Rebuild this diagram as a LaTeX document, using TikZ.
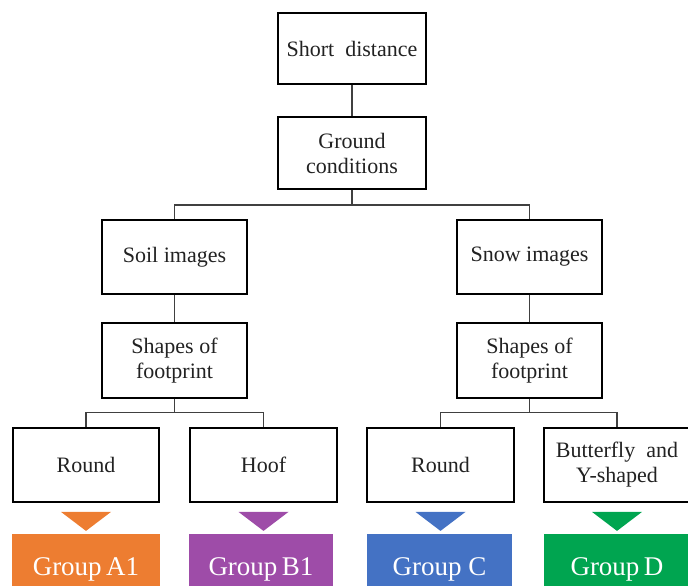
\documentclass[tikz,border=0pt]{standalone}
\usepackage{fontspec}
\setmainfont{Liberation Serif}
\usetikzlibrary{calc}
\definecolor{cA}{HTML}{ED7D31}
\definecolor{cB}{HTML}{9E4CA8}
\definecolor{cC}{HTML}{4472C4}
\definecolor{cD}{HTML}{00A550}
\definecolor{conn}{HTML}{404040}
\definecolor{txt}{HTML}{222222}
\tikzset{
  box/.style={draw=black, line width=1.8pt, fill=white, minimum width=146pt, minimum height=74pt,
    inner sep=2pt, align=center, text=txt, font=\fontsize{22}{25}\selectfont},
  link/.style={draw=conn, line width=1.5pt},
  grptxt/.style={text=white, font=\fontsize{27}{30}\selectfont, inner sep=0pt},
}
\begin{document}
\begin{tikzpicture}[x=1pt,y=-1pt]
\useasboundingbox (0,0) rectangle (688,586);
\node[box, minimum width=148pt, minimum height=71pt] (short) at (352,48.5) {Short~ distance};
\node[box, minimum width=148pt, minimum height=72pt] (ground) at (352,153) {Ground\\conditions};
\node[box, minimum width=145pt] (soil) at (174.5,257) {Soil images};
\node[box, minimum width=145pt] (snow) at (529.5,257) {Snow images};
\node[box, minimum width=145pt, minimum height=75pt] (shL) at (174.5,360.5) {Shapes of\\footprint};
\node[box, minimum width=145pt, minimum height=75pt] (shR) at (529.5,360.5) {Shapes of\\footprint};
\node[box] (r1) at (86,465) {Round};
\node[box, minimum width=147pt] (hoof) at (263.5,465) {Hoof};
\node[box, minimum width=147pt] (r2) at (440.5,465) {Round};
\node[box] (bf) at (617,465) {Butterfly~ and\\Y-shaped};
\coordinate (j1) at (352,205);
\coordinate (j2) at (174.5,412.5);
\coordinate (j3) at (529.5,412.5);
\draw[link] (short.south) -- (ground.north);
\draw[link] (ground.south) -- (j1);
\draw[link] (soil.north) |- (j1) -| (snow.north);
\draw[link] (soil.south) -- (shL.north);
\draw[link] (snow.south) -- (shR.north);
\draw[link] (shL.south) -- (j2);
\draw[link] (r1.north) |- (j2) -| (hoof.north);
\draw[link] (shR.south) -- (j3);
\draw[link] (r2.north) |- (j3) -| (bf.north);
% triangles
\foreach \n/\c in {r1/cA, hoof/cB, r2/cC, bf/cD}{
  \fill[\c] ($(\n.south)+(-25,9)$) -- ++(50,0) -- ++(-25,19) -- cycle;
}
% groups
\fill[cA] (12,534) rectangle (160,590);
\fill[cB] (189,534) rectangle (333,590);
\fill[cC] (367,534) rectangle (512,590);
\fill[cD] (544,534) rectangle (690,590);
\node[grptxt, anchor=base] (gA) at (86,575) {Group\,A1};
\node[grptxt, anchor=base] (gB) at (261,575) {Group\,B1};
\node[grptxt, anchor=base] (gC) at (439.5,575) {Group C};
\node[grptxt, anchor=base] (gD) at (617,575) {Group\,D};
\end{tikzpicture}
\end{document}
